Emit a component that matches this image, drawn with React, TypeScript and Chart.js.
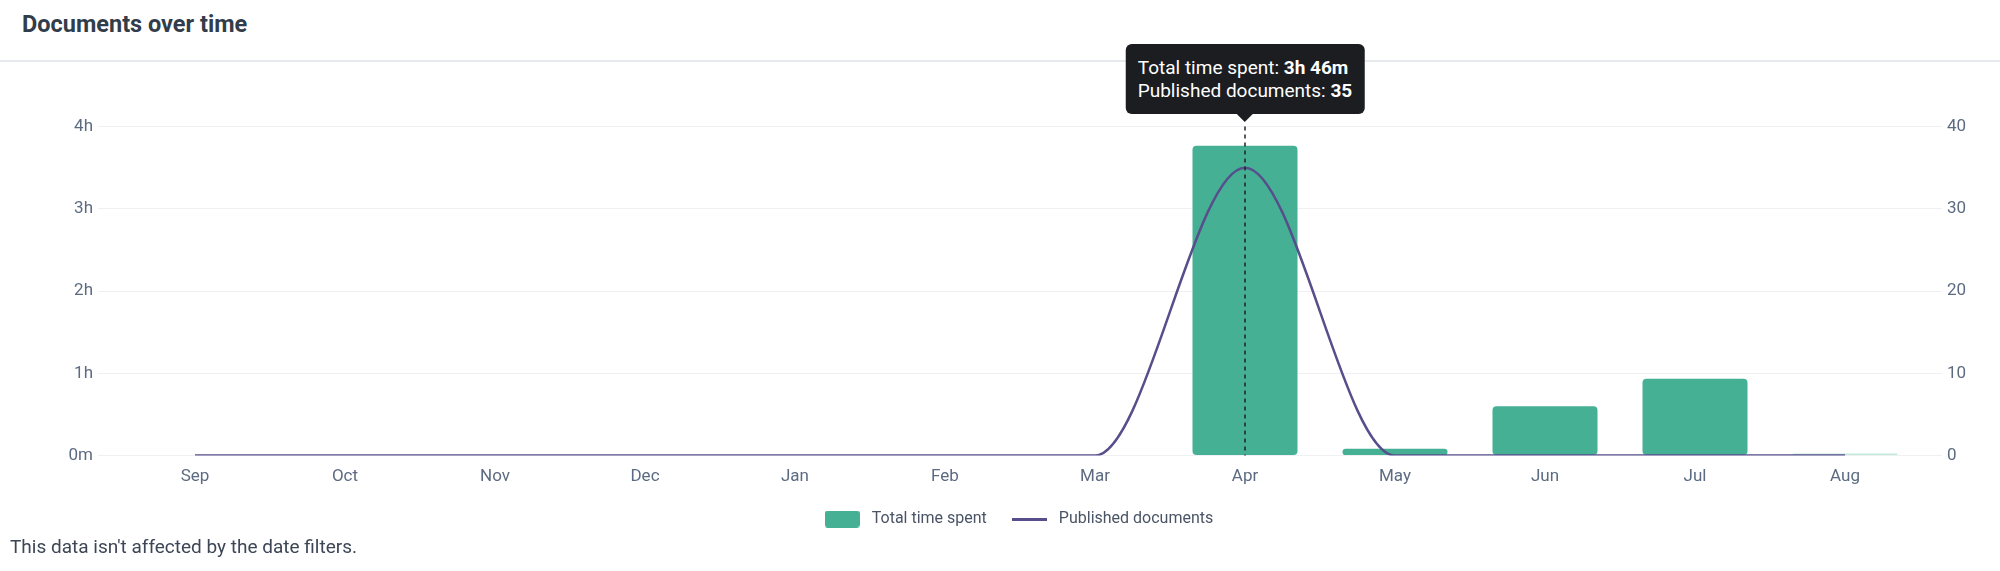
import { useEffect, useRef, useState } from "react";
import { Chart, registerables } from "chart.js";

Chart.register(...registerables);

const months = ["Sep", "Oct", "Nov", "Dec", "Jan", "Feb", "Mar", "Apr", "May", "Jun", "Jul", "Aug"];
// minutes spent per month (null = no data)
const timeSpentMinutes = [null, null, null, null, null, null, null, 226, 5, 36, 56, 0];
const publishedDocs = [0, 0, 0, 0, 0, 0, 0, 35, 0, 0, 0, 0];
const timeTicks = [0, 60, 120, 180, 240];
const docTicks = [0, 10, 20, 30, 40];
const activeIndex = 7;

const FONT = "Roboto, 'Noto Sans', sans-serif";
const TEAL = "#45b094";
const TEAL_FAINT = "#c3e8dc";
const PURPLE = "#574f8b";
const TICK = "#5c6b82";
const GRID = "#eef0f4";
const CANVAS_TOP = 61;

const fmtMinutes = (m: number) => {
  if (!m) return "0m";
  const h = Math.floor(m / 60);
  const mm = Math.round(m % 60);
  if (!mm) return `${h}h`;
  if (!h) return `${mm}m`;
  return `${h}h ${mm}m`;
};

const hoverLine = {
  id: "hoverLine",
  afterDatasetsDraw(chart: any) {
    const active = chart.tooltip?.getActiveElements() || [];
    if (!active.length) return;
    const x = active[0].element.x;
    const { top, bottom } = chart.chartArea;
    const ctx = chart.ctx;
    ctx.save();
    ctx.strokeStyle = "#1f2227";
    ctx.lineWidth = 1.5;
    ctx.setLineDash([4, 4]);
    ctx.beginPath();
    ctx.moveTo(x, top);
    ctx.lineTo(x, bottom);
    ctx.stroke();
    ctx.restore();
  },
};

type Tip = { x: number; top: number; rows: { label: string; value: string }[] } | null;

const DocumentsChart = () => {
  const chartRef = useRef<HTMLCanvasElement | null>(null);
  const [tip, setTip] = useState<Tip>(null);

  useEffect(() => {
    if (!chartRef.current) return;

    const barIcon = document.createElement("canvas");
    barIcon.width = 35;
    barIcon.height = 17;
    const bctx = barIcon.getContext("2d")!;
    bctx.fillStyle = TEAL;
    bctx.beginPath();
    bctx.roundRect(0, 0, 35, 17, 3);
    bctx.fill();

    const lineIcon = document.createElement("canvas");
    lineIcon.width = 35;
    lineIcon.height = 3;
    const lctx = lineIcon.getContext("2d")!;
    lctx.fillStyle = PURPLE;
    lctx.fillRect(0, 0, 35, 3);

    const chart = new Chart(chartRef.current, {
      type: "bar",
      data: {
        labels: months,
        datasets: [
          {
            type: "bar",
            label: "Total time spent",
            data: timeSpentMinutes,
            yAxisID: "y",
            backgroundColor: (c: any) => (c.raw === 0 ? TEAL_FAINT : TEAL),
            borderRadius: 4,
            borderSkipped: false,
            barPercentage: 0.875,
            categoryPercentage: 0.8,
            minBarLength: 2,
            order: 1,
          },
          {
            type: "line",
            label: "Published documents",
            data: publishedDocs,
            yAxisID: "y1",
            borderColor: PURPLE,
            backgroundColor: PURPLE,
            borderWidth: 2.5,
            pointRadius: 0,
            pointHoverRadius: 0,
            cubicInterpolationMode: "monotone",
            order: 0,
          },
        ],
      } as any,
      options: {
        animation: false,
        responsive: true,
        maintainAspectRatio: false,
        events: [],
        layout: { padding: { top: 65.5, bottom: 0, left: 34, right: 0 } },
        scales: {
          x: {
            grid: { display: false, drawTicks: false },
            border: { display: false },
            ticks: { color: TICK, font: { family: FONT, size: 17 }, padding: 11 },
            afterFit: (s: any) => {
              s.height -= 8;
            },
          },
          y: {
            position: "left",
            min: timeTicks[0],
            max: timeTicks[timeTicks.length - 1],
            afterBuildTicks: (s: any) => {
              s.ticks = timeTicks.map((v) => ({ value: v }));
            },
            grid: { color: GRID, tickColor: GRID, tickLength: 22, lineWidth: 1 },
            border: { display: false },
            ticks: {
              color: TICK,
              font: { family: FONT, size: 17 },
              padding: 5,
              callback: (v: any) => fmtMinutes(Number(v)),
            },
            afterFit: (s: any) => {
              s.width = 86;
            },
          },
          y1: {
            position: "right",
            min: docTicks[0],
            max: docTicks[docTicks.length - 1],
            afterBuildTicks: (s: any) => {
              s.ticks = docTicks.map((v) => ({ value: v }));
            },
            grid: { drawOnChartArea: false, color: GRID, tickColor: GRID, tickLength: 22 },
            border: { display: false },
            ticks: { color: TICK, font: { family: FONT, size: 17 }, padding: 5 },
            afterFit: (s: any) => {
              s.width = 80;
            },
          },
        },
        plugins: {
          legend: {
            position: "bottom",
            labels: {
              usePointStyle: true,
              pointStyleWidth: 43,
              padding: 21,
              color: "#4a5465",
              font: { family: FONT, size: 16 },
              sort: (a: any, b: any) => a.datasetIndex - b.datasetIndex,
              generateLabels: (c: any) =>
                Chart.defaults.plugins.legend.labels.generateLabels(c).map((l: any) => ({
                  ...l,
                  pointStyle: l.datasetIndex === 0 ? barIcon : lineIcon,
                  fontColor: "#4a5465",
                })),
            },
          },
          tooltip: {
            enabled: false,
            external: ({ chart: ch, tooltip }: any) => {
              const pts = tooltip.dataPoints || [];
              if (!pts.length) {
                setTip(null);
                return;
              }
              setTip({
                x: pts[0].element.x,
                top: ch.chartArea.top,
                rows: pts.map((dp: any) => ({
                  label: dp.dataset.label,
                  value: dp.datasetIndex === 0 ? fmtMinutes(dp.raw) : String(dp.raw),
                })),
              });
            },
          },
        },
      },
      plugins: [hoverLine],
    });

    const bar = chart.getDatasetMeta(0).data[activeIndex];
    chart.tooltip?.setActiveElements(
      [
        { datasetIndex: 0, index: activeIndex },
        { datasetIndex: 1, index: activeIndex },
      ],
      { x: bar.x, y: bar.y }
    );
    chart.draw();

    return () => {
      chart.destroy();
    };
  }, []);

  return (
    <>
      <div style={{ position: "absolute", top: CANVAS_TOP, left: 0, width: 2000, height: 476 }}>
        <canvas ref={chartRef} />
      </div>
      {tip && (
        <div
          style={{
            position: "absolute",
            left: tip.x,
            top: CANVAS_TOP + tip.top - 5,
            transform: "translate(-50%, -100%)",
            display: "flex",
            flexDirection: "column",
            alignItems: "center",
            fontFamily: FONT,
          }}
        >
          <div
            style={{
              background: "#1b1d21",
              color: "#fff",
              borderRadius: 6,
              padding: "12px 12px",
              fontSize: 19,
              lineHeight: "23px",
              whiteSpace: "nowrap",
            }}
          >
            {tip.rows.map((r) => (
              <div key={r.label}>
                {r.label}: <b>{r.value}</b>
              </div>
            ))}
          </div>
          <div
            style={{
              width: 0,
              height: 0,
              borderLeft: "8px solid transparent",
              borderRight: "8px solid transparent",
              borderTop: "8px solid #1b1d21",
            }}
          />
        </div>
      )}
    </>
  );
};

export default function App() {
  return (
    <div style={{ position: "absolute", top: 0, left: 0, width: 2000, height: 571, background: "#fff" }}>
      <div
        style={{
          position: "absolute",
          left: 22,
          top: 10,
          fontFamily: FONT,
          fontWeight: 700,
          fontSize: 23.5,
          lineHeight: "28px",
          color: "#323d4b",
        }}
      >
        Documents over time
      </div>
      <div style={{ position: "absolute", top: 60, left: 0, width: 2000, height: 2, background: "#e6eaef" }} />
      <DocumentsChart />
      <div
        style={{
          position: "absolute",
          left: 10,
          top: 535,
          fontFamily: FONT,
          fontSize: 19,
          lineHeight: "24px",
          color: "#3c4656",
        }}
      >
        This data isn't affected by the date filters.
      </div>
    </div>
  );
}
